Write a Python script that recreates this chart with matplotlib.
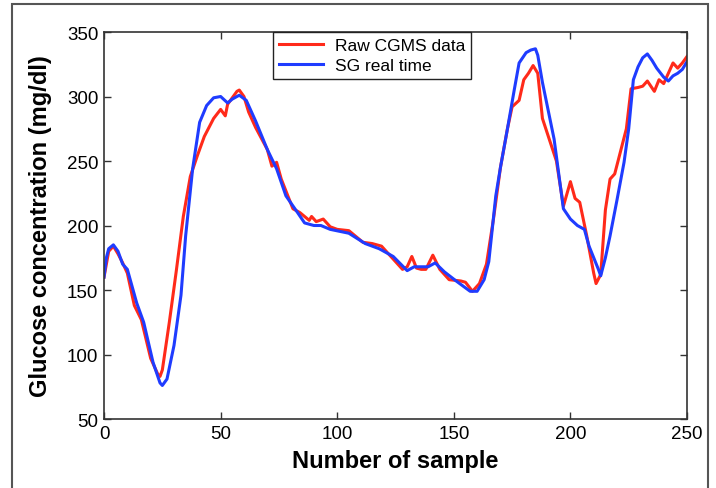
import numpy as np
import matplotlib
matplotlib.use('Agg')
from matplotlib import pyplot as plt
from matplotlib.patches import Rectangle

# raw CGMS samples
raw_x = [0, 2, 4, 6, 8, 10, 13, 16, 20, 23, 24, 25, 28, 31, 34, 37, 40, 43, 45, 47,
         50, 52, 53, 55, 57, 58, 60, 62, 65, 70, 72, 74, 76, 81, 84, 88, 89, 91, 94, 97,
         100, 105, 111, 115, 119, 122, 125, 128, 130, 132, 134, 136, 138, 141, 144, 148,
         153, 155, 158, 161, 164, 167, 170, 173, 175, 178, 180, 182, 184, 186, 188, 194,
         197, 200, 202, 204, 207, 210, 211, 213, 215, 217, 219, 221, 224, 226, 229, 231,
         233, 236, 238, 240, 242, 244, 246, 248, 250]
raw_y = [160, 180, 184, 178, 171, 163, 138, 127, 97, 85, 83, 88, 125, 165, 207, 238, 254, 269, 276, 283,
         290, 285, 294, 299, 304, 305, 300, 288, 276, 259, 246, 249, 236, 213, 210, 204, 207, 203, 205, 199,
         197, 196, 187, 186, 184, 178, 172, 166, 168, 176, 167, 166, 166, 177, 166, 158,
         157, 156, 149, 155, 170, 205, 245, 275, 292, 297, 313, 318, 324, 318, 283, 250,
         215, 234, 221, 218, 192, 163, 155, 162, 212, 236, 240, 254, 275, 306, 307, 308,
         312, 304, 313, 310, 318, 326, 322, 326, 331]

# SG real time estimate
sg_x = [0, 1, 2, 4, 6, 8, 10, 14, 17, 21, 24, 25, 27, 30, 33, 35, 38, 41, 44, 47,
        50, 53, 55, 58, 61, 65, 70, 74, 78, 83, 86, 90, 93, 97, 105, 112, 118, 124, 130, 133,
        139, 142, 146, 151, 157, 160, 163, 165, 168, 170, 173, 176, 178, 181, 183, 185, 186, 188,
        193, 197, 200, 203, 206, 208, 212, 213, 215, 217, 220, 223, 225, 227, 229, 231, 233,
        235, 237, 240, 242, 244, 246, 248, 250]
sg_y = [160, 175, 182, 185, 180, 170, 166, 140, 125, 94, 78, 76, 81, 107, 146, 192, 244, 280, 293, 299,
        300, 295, 298, 301, 297, 281, 259, 244, 223, 210, 202, 200, 200, 197, 194, 186, 182, 176, 165, 168,
        168, 171, 164, 157, 149, 149, 158, 172, 223, 245, 275, 306, 326, 334, 336, 337, 332, 311,
        267, 213, 205, 200, 197, 184, 166, 161, 175, 192, 220, 249, 275, 313, 323, 330, 333,
        328, 322, 315, 312, 316, 318, 321, 327]

xticks = [0, 50, 100, 150, 200, 250]
yticks = [50, 100, 150, 200, 250, 300, 350]

plt.rcParams['font.family'] = ['Liberation Sans', 'DejaVu Sans']

fig = plt.figure(figsize=(7.16, 4.89), dpi=100)
ax = fig.add_axes([0.1453, 0.1411, 0.8142, 0.7914])

ax.plot(raw_x, raw_y, color='#ff2a1a', lw=2.2, label='Raw CGMS data')
ax.plot(sg_x, sg_y, color='#1f3cff', lw=2.2, label='SG real time')

ax.set_xlim(0, 250)
ax.set_ylim(50, 350)
ax.set_xticks(xticks)
ax.set_yticks(yticks)
ax.tick_params(direction='in', top=True, right=True, length=5, width=1,
               labelsize=13.5, color='#333333', pad=4)
for s in ax.spines.values():
    s.set_color('#333333')
    s.set_linewidth(1.2)

ax.set_xlabel('Number of sample', fontsize=17, fontweight='bold', labelpad=5)
ax.set_ylabel('Glucose concentration (mg/dl)', fontsize=17, fontweight='bold', labelpad=11)

leg = ax.legend(loc='upper left', bbox_to_anchor=(0.29, 1.0), borderaxespad=0,
                fancybox=False, edgecolor='#222222', framealpha=1, fontsize=12.5,
                handlelength=2.5, borderpad=0.35, labelspacing=0.25, handletextpad=0.7)
leg.get_frame().set_linewidth(1.0)

# outer frame around the whole figure
fig.patches.append(Rectangle((12 / 716, -0.05), (708 - 12) / 716, 1.05 - 5 / 489,
                             transform=fig.transFigure, fill=False,
                             edgecolor='#555555', lw=1.5))

fig.savefig('out.png', dpi=100)
